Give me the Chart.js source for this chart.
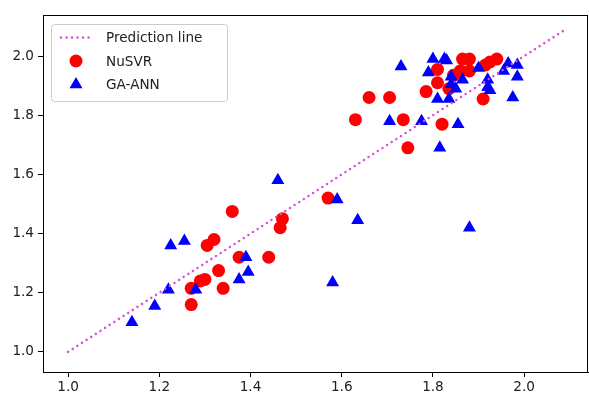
<!DOCTYPE html>
<html>
<head>
<meta charset="utf-8">
<script src="https://cdn.jsdelivr.net/npm/chart.js@4"></script>
<style>
  html, body { margin: 0; padding: 0; background: #fff; }
  #wrap { width: 589px; height: 394px; }
</style>
</head>
<body>
<div id="wrap"><canvas id="scatterPred"></canvas></div>
<script>
// values
const nusvrX = [1.27, 1.27, 1.29, 1.30, 1.33, 1.34, 1.305, 1.32, 1.36, 1.375, 1.44, 1.465, 1.47, 1.57,
  1.63, 1.66, 1.705, 1.735, 1.745, 1.82, 1.91, 1.785, 1.81, 1.835, 1.81, 1.865, 1.88, 1.86, 1.88, 1.94, 1.925, 1.915, 1.845];
const nusvrY = [1.16, 1.215, 1.24, 1.245, 1.275, 1.215, 1.36, 1.38, 1.475, 1.32, 1.32, 1.42, 1.45, 1.52,
  1.785, 1.86, 1.86, 1.785, 1.69, 1.77, 1.855, 1.88, 1.91, 1.89, 1.955, 1.99, 1.99, 1.95, 1.95, 1.99, 1.98, 1.97, 1.935];

const annX = [1.14, 1.19, 1.22, 1.225, 1.255, 1.28, 1.375, 1.39, 1.395, 1.46, 1.58, 1.59, 1.635, 1.88,
  1.73, 1.705, 1.775, 1.855, 1.815, 1.80, 1.825, 1.83, 1.79, 1.84, 1.865, 1.84, 1.85, 1.835, 1.81,
  1.90, 1.92, 1.92, 1.925, 1.955, 1.965, 1.985, 1.985, 1.975];
const annY = [1.10, 1.155, 1.21, 1.36, 1.375, 1.21, 1.245, 1.32, 1.27, 1.58, 1.235, 1.515, 1.445, 1.42,
  1.965, 1.78, 1.78, 1.77, 1.69, 1.99, 1.99, 1.985, 1.945, 1.93, 1.92, 1.905, 1.89, 1.855, 1.855,
  1.96, 1.92, 1.895, 1.885, 1.95, 1.975, 1.97, 1.93, 1.86];

const lineX = [1.0, 2.09];
const tickVals = [1.0, 1.2, 1.4, 1.6, 1.8, 2.0];

const toPts = (xs, ys) => xs.map((x, i) => ({ x: x, y: ys[i] }));

Chart.defaults.font.family = 'DejaVu Sans';
Chart.defaults.font.size = 13.6;
Chart.defaults.color = '#222';

const lineColor = '#d64fd6';

// legend box inside the plot, matplotlib style
const boxLegend = {
  id: 'boxLegend',
  afterDraw(chart) {
    const ctx = chart.ctx;
    ctx.save();
    const x0 = 51, y0 = 24, w = 176, h = 77;
    ctx.fillStyle = 'rgba(255,255,255,0.85)';
    ctx.strokeStyle = '#cccccc';
    ctx.lineWidth = 1;
    ctx.beginPath();
    ctx.roundRect(x0 + 0.5, y0 + 0.5, w, h, 3);
    ctx.fill();
    ctx.stroke();

    const rows = [37.5, 61, 84.5];
    ctx.strokeStyle = lineColor;
    ctx.lineWidth = 2.5;
    ctx.lineCap = 'round';
    ctx.setLineDash([0.01, 5.5]);
    ctx.beginPath();
    ctx.moveTo(61, rows[0]);
    ctx.lineTo(89, rows[0]);
    ctx.stroke();
    ctx.setLineDash([]);

    ctx.fillStyle = '#ff0000';
    ctx.beginPath();
    ctx.arc(76, rows[1], 6.5, 0, Math.PI * 2);
    ctx.fill();

    const r = 7.5;
    ctx.fillStyle = '#0000ff';
    ctx.beginPath();
    ctx.moveTo(76, rows[2] - r);
    ctx.lineTo(76 + r * Math.sin(2 * Math.PI / 3), rows[2] + r / 2);
    ctx.lineTo(76 - r * Math.sin(2 * Math.PI / 3), rows[2] + r / 2);
    ctx.closePath();
    ctx.fill();

    ctx.fillStyle = '#222';
    ctx.font = '13.6px "DejaVu Sans"';
    ctx.textBaseline = 'middle';
    ctx.textAlign = 'left';
    ['Prediction line', 'NuSVR', 'GA-ANN'].forEach((t, i) => ctx.fillText(t, 106, rows[i] + 1));
    ctx.restore();
  }
};

// frame round the axes
const frame = {
  id: 'frame',
  afterDatasetsDraw(chart) {
    const a = chart.chartArea;
    const ctx = chart.ctx;
    ctx.save();
    ctx.strokeStyle = '#000';
    ctx.lineWidth = 1;
    ctx.strokeRect(a.left + 0.5, a.top + 0.5, a.right - a.left - 1, a.bottom - a.top);
    ctx.restore();
  }
};

const ctxPred = document.getElementById('scatterPred').getContext('2d');

new Chart(ctxPred, {
  type: 'scatter',
  data: {
    datasets: [
      {
        label: 'Prediction line',
        type: 'line',
        data: toPts(lineX, lineX),
        borderColor: lineColor,
        borderWidth: 2.5,
        borderDash: [0.01, 5.5],
        borderCapStyle: 'round',
        pointRadius: 0,
        fill: false,
        order: 0
      },
      {
        label: 'NuSVR',
        data: toPts(nusvrX, nusvrY),
        backgroundColor: '#ff0000',
        borderColor: '#ff0000',
        borderWidth: 0,
        pointStyle: 'circle',
        pointRadius: 6.5,
        order: 2
      },
      {
        label: 'GA-ANN',
        data: toPts(annX, annY),
        backgroundColor: '#0000ff',
        borderColor: '#0000ff',
        borderWidth: 0,
        pointStyle: 'triangle',
        pointRadius: 7.5,
        order: 1
      }
    ]
  },
  options: {
    responsive: true,
    maintainAspectRatio: false,
    animation: false,
    layout: { autoPadding: false, padding: { top: 15, right: 1, left: 0, bottom: 0 } },
    plugins: { legend: { display: false }, tooltip: { enabled: false } },
    scales: {
      x: {
        type: 'linear',
        min: 0.945,
        max: 2.14,
        afterBuildTicks: s => { s.ticks = tickVals.map(v => ({ value: v })); },
        afterFit: s => { s.height = 22; },
        ticks: { padding: 2, maxRotation: 0, callback: v => v.toFixed(1) },
        grid: { drawOnChartArea: false, drawTicks: true, tickLength: 5, tickColor: '#000' },
        border: { color: '#000' }
      },
      y: {
        type: 'linear',
        min: 0.932,
        max: 2.139,
        afterBuildTicks: s => { s.ticks = tickVals.map(v => ({ value: v })); },
        afterFit: s => { s.width = 43; },
        ticks: { padding: 4, callback: v => v.toFixed(1) },
        grid: { drawOnChartArea: false, drawTicks: true, tickLength: 5, tickColor: '#000' },
        border: { color: '#000' }
      }
    }
  },
  plugins: [frame, boxLegend]
});
</script>
</body>
</html>
